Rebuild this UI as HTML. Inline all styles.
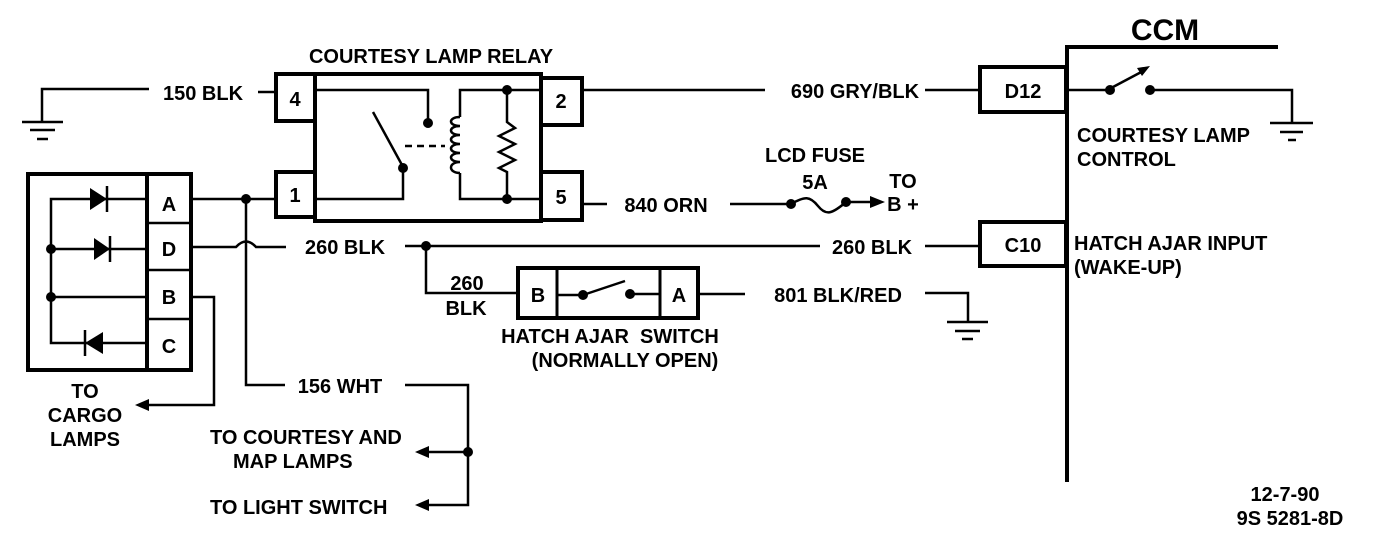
<!DOCTYPE html>
<html><head><meta charset="utf-8"><style>
html,body{margin:0;padding:0;background:#fff}
svg{display:block}
text{font-family:"Liberation Sans",sans-serif;font-weight:bold;font-size:20px;fill:#000}
</style></head><body>
<svg width="1376" height="536" viewBox="0 0 1376 536" xmlns="http://www.w3.org/2000/svg">
<g fill="none" stroke="#000" stroke-width="2.5">
<polyline points="149,89 42,89 42,122"/>
<line x1="22" y1="122" x2="63" y2="122"/><line x1="30" y1="130" x2="55" y2="130"/><line x1="37" y1="139" x2="48" y2="139"/>
<line x1="258" y1="92" x2="274" y2="92"/>
<g stroke-width="4">
<rect x="315" y="74" width="226" height="147"/>
<rect x="276" y="74" width="39" height="47"/>
<rect x="276" y="172" width="39" height="45"/>
<rect x="541" y="78" width="41" height="47"/>
<rect x="541" y="172" width="41" height="48"/>
</g>
<polyline points="315,90 428,90 428,120"/>
<line x1="373" y1="112" x2="402" y2="165"/>
<polyline points="403,168 403,199 315,199"/>
<line x1="405" y1="146" x2="445" y2="146" stroke-dasharray="7,5"/>
<polyline points="541,90 460,90 460,117"/>
<path d="M460,117 C448,117 448,126 460,126 C448,126 448,135 460,135 C448,135 448,144 460,144 C448,144 448,153 460,153 C448,153 448,162 460,162 C448,162 448,173 460,173"/>
<polyline points="460,173 460,199 541,199"/>
<polyline points="507,90 507,122 515,128 499,136 515,144 499,152 515,160 499,168 507,172 507,199"/>
<rect x="28" y="174" width="163" height="196" stroke-width="4"/>
<line x1="147" y1="174" x2="147" y2="370" stroke-width="4"/>
<line x1="147" y1="223" x2="191" y2="223"/><line x1="147" y1="270" x2="191" y2="270"/><line x1="147" y1="319" x2="191" y2="319"/>
<polyline points="147,199 51,199 51,343 147,343"/>
<line x1="51" y1="249" x2="147" y2="249"/>
<line x1="51" y1="297" x2="147" y2="297"/>
<line x1="107" y1="186" x2="107" y2="212"/><line x1="110" y1="236" x2="110" y2="262"/><line x1="85" y1="330" x2="85" y2="356"/>
<line x1="191" y1="199" x2="276" y2="199"/>
<polyline points="246,199 246,385 285,385"/>
<path d="M191,247 L236,247 Q246,236 256,247 L286,247"/>
<line x1="405" y1="246" x2="820" y2="246"/>
<line x1="925" y1="246" x2="980" y2="246"/>
<polyline points="426,246 426,293 518,293"/>
<polyline points="191,297 214,297 214,405 145,405"/>
<polyline points="405,385 468,385 468,505 425,505"/>
<line x1="468" y1="452" x2="425" y2="452"/>
<line x1="582" y1="90" x2="765" y2="90"/>
<line x1="925" y1="90" x2="980" y2="90"/>
<rect x="980" y="67" width="86" height="45" stroke-width="4"/>
<rect x="980" y="222" width="86" height="44" stroke-width="4"/>
<polyline points="1067,482 1067,47 1278,47" stroke-width="4"/>
<line x1="1067" y1="90" x2="1110" y2="90"/>
<line x1="1113" y1="87" x2="1145" y2="70"/>
<polyline points="1150,90 1292,90 1292,123"/>
<line x1="1270" y1="123" x2="1313" y2="123"/><line x1="1280" y1="132" x2="1303" y2="132"/><line x1="1288" y1="140" x2="1296" y2="140"/>
<line x1="582" y1="204" x2="607" y2="204"/>
<line x1="730" y1="204" x2="791" y2="204"/>
<path d="M791,204 C805,196 810,196 818,206 C826,216 832,214 846,202"/>
<line x1="846" y1="202" x2="875" y2="202"/>
<rect x="518" y="268" width="180" height="50" stroke-width="4"/>
<line x1="557" y1="268" x2="557" y2="318" stroke-width="3"/>
<line x1="660" y1="268" x2="660" y2="318" stroke-width="3"/>
<line x1="557" y1="295" x2="583" y2="295"/>
<line x1="583" y1="295" x2="625" y2="281"/>
<line x1="630" y1="294" x2="660" y2="294"/>
<line x1="698" y1="294" x2="745" y2="294"/>
<polyline points="925,293 968,293 968,322"/>
<line x1="947" y1="322" x2="988" y2="322"/><line x1="955" y1="331" x2="980" y2="331"/><line x1="962" y1="339" x2="973" y2="339"/>
</g>
<g fill="#000">
<circle cx="428" cy="123" r="5"/><circle cx="403" cy="168" r="5"/>
<circle cx="507" cy="90" r="5"/><circle cx="507" cy="199" r="5"/>
<circle cx="51" cy="249" r="5"/><circle cx="51" cy="297" r="5"/>
<circle cx="246" cy="199" r="5"/><circle cx="426" cy="246" r="5"/>
<circle cx="468" cy="452" r="5"/>
<circle cx="1110" cy="90" r="5"/><circle cx="1150" cy="90" r="5"/>
<circle cx="791" cy="204" r="5"/><circle cx="846" cy="202" r="5"/>
<circle cx="583" cy="295" r="5"/><circle cx="630" cy="294" r="5"/>
<polygon points="90,188 107,199 90,210"/><polygon points="94,238 110,249 94,260"/><polygon points="103,332 85,343 103,354"/>
<polygon points="1150,66 1137,68 1142,76"/>
<polygon points="885,202 870,196 870,208"/>
<polygon points="135,405 149,399 149,411"/>
<polygon points="415,452 429,446 429,458"/><polygon points="415,505 429,499 429,511"/>
</g>
<text x="431" y="63" text-anchor="middle">COURTESY LAMP RELAY</text>
<text x="203" y="100" text-anchor="middle">150 BLK</text>
<text x="295" y="106" text-anchor="middle">4</text>
<text x="295" y="202" text-anchor="middle">1</text>
<text x="561" y="108" text-anchor="middle">2</text>
<text x="561" y="204" text-anchor="middle">5</text>
<text x="169" y="211" text-anchor="middle">A</text>
<text x="169" y="256" text-anchor="middle">D</text>
<text x="169" y="304" text-anchor="middle">B</text>
<text x="169" y="353" text-anchor="middle">C</text>
<text x="345" y="254" text-anchor="middle">260 BLK</text>
<text x="872" y="254" text-anchor="middle">260 BLK</text>
<text x="467" y="290" text-anchor="middle">260</text>
<text x="466" y="315" text-anchor="middle">BLK</text>
<text x="538" y="302" text-anchor="middle">B</text>
<text x="679" y="302" text-anchor="middle">A</text>
<text x="838" y="302" text-anchor="middle">801 BLK/RED</text>
<text x="610" y="343" text-anchor="middle" xml:space="preserve">HATCH AJAR  SWITCH</text>
<text x="625" y="367" text-anchor="middle">(NORMALLY OPEN)</text>
<text x="855" y="98" text-anchor="middle">690 GRY/BLK</text>
<text x="666" y="212" text-anchor="middle">840 ORN</text>
<text x="815" y="162" text-anchor="middle">LCD FUSE</text>
<text x="815" y="189" text-anchor="middle">5A</text>
<text x="903" y="188" text-anchor="middle">TO</text>
<text x="903" y="211" text-anchor="middle">B +</text>
<text x="1023" y="98" text-anchor="middle">D12</text>
<text x="1023" y="252" text-anchor="middle">C10</text>
<text x="1165" y="40" text-anchor="middle" style="font-size:30px">CCM</text>
<text x="1077" y="142">COURTESY LAMP</text>
<text x="1077" y="166">CONTROL</text>
<text x="1074" y="250">HATCH AJAR INPUT</text>
<text x="1074" y="274">(WAKE-UP)</text>
<text x="85" y="398" text-anchor="middle">TO</text>
<text x="85" y="422" text-anchor="middle">CARGO</text>
<text x="85" y="446" text-anchor="middle">LAMPS</text>
<text x="340" y="393" text-anchor="middle">156 WHT</text>
<text x="210" y="444">TO COURTESY AND</text>
<text x="233" y="468">MAP LAMPS</text>
<text x="210" y="514">TO LIGHT SWITCH</text>
<text x="1285" y="501" text-anchor="middle">12-7-90</text>
<text x="1290" y="525" text-anchor="middle">9S 5281-8D</text>
</svg>
</body></html>
